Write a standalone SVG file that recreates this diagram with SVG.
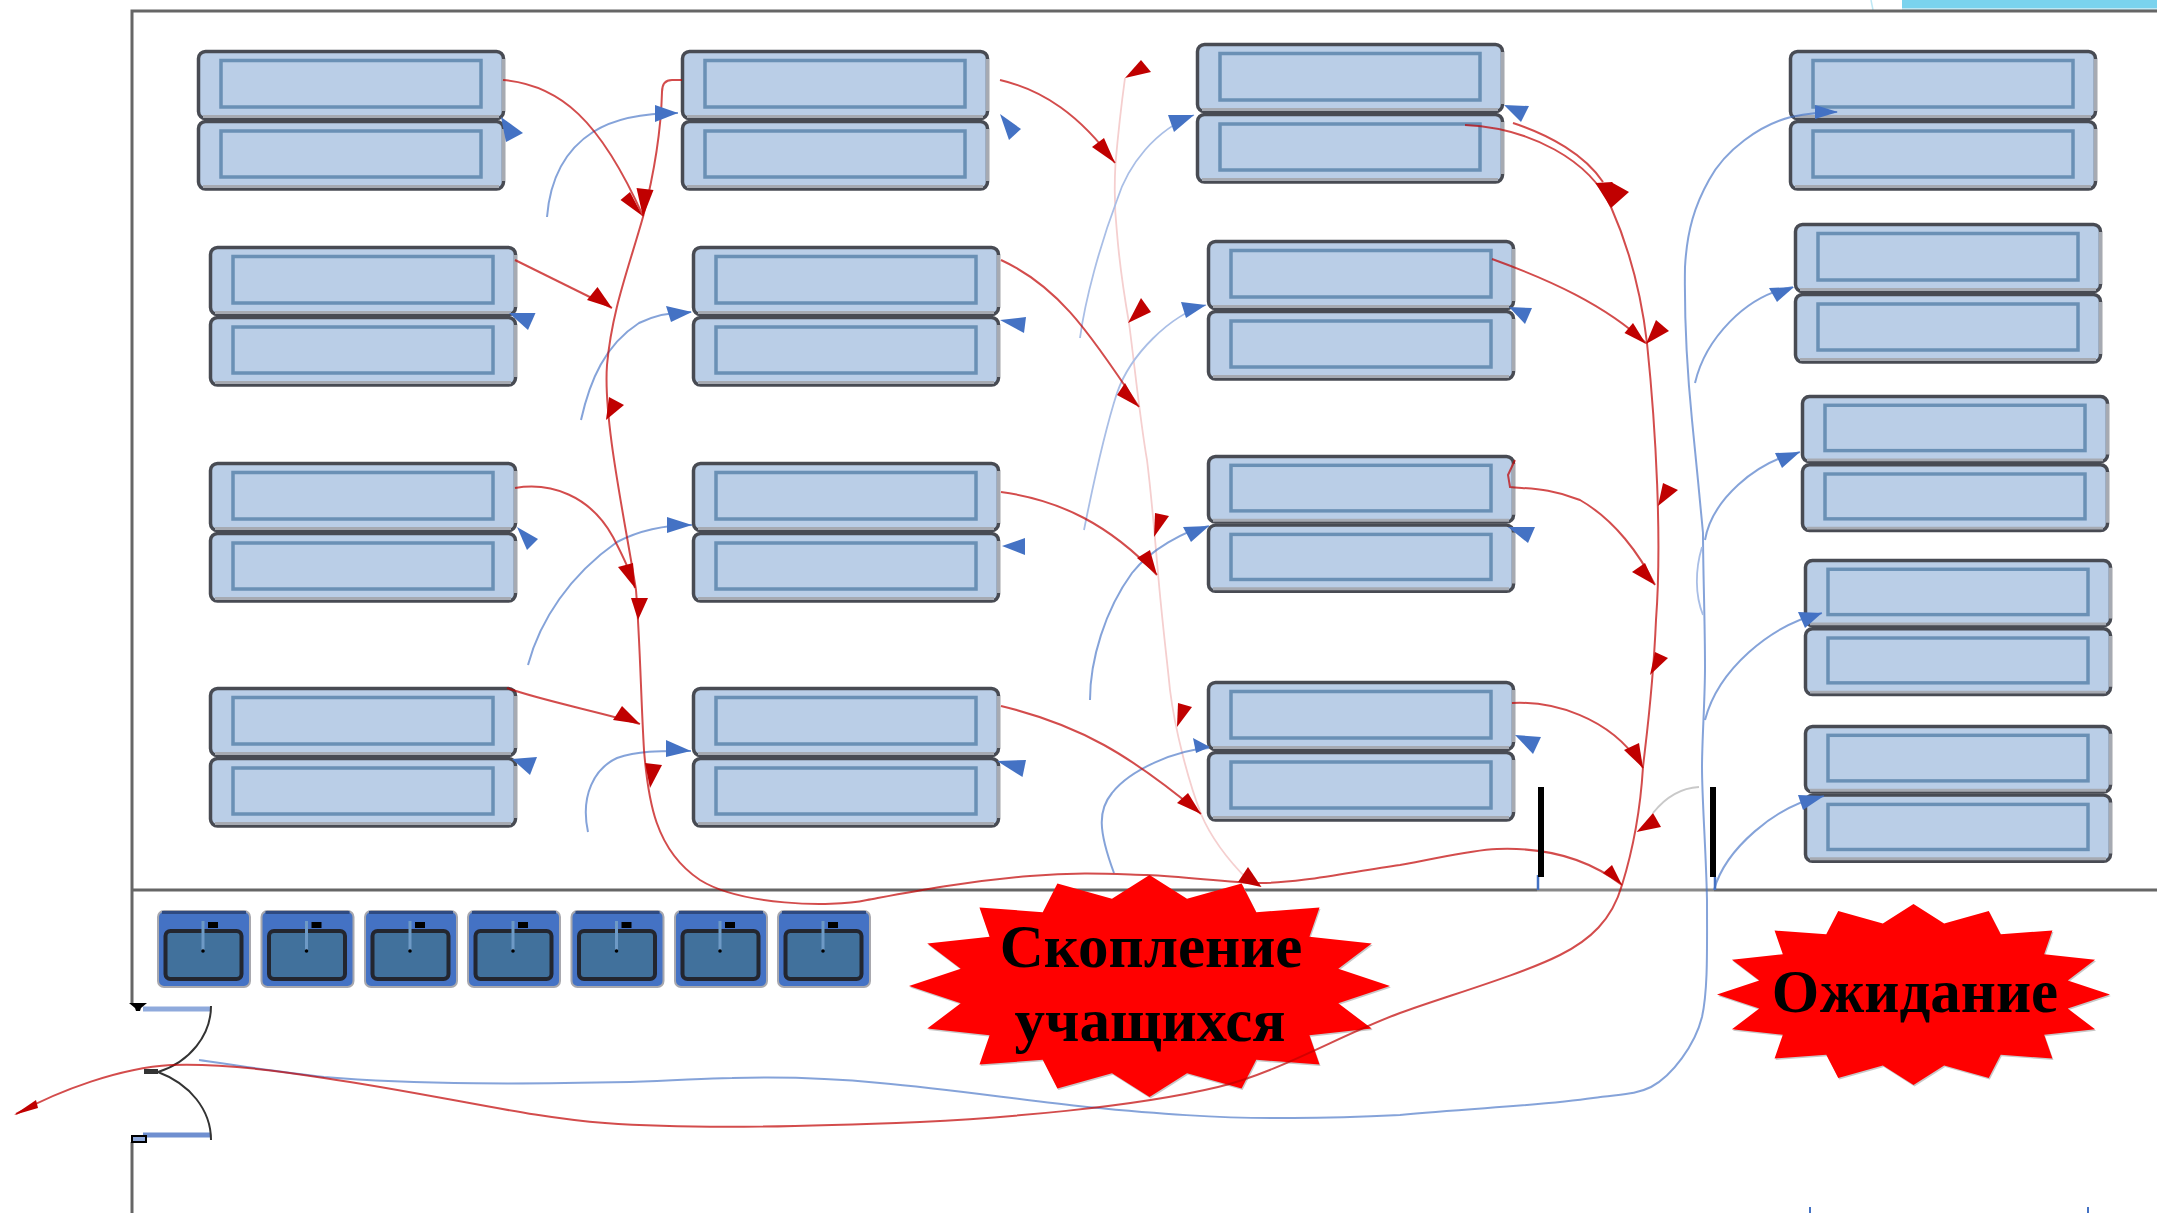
<svg xmlns="http://www.w3.org/2000/svg" xmlns:xlink="http://www.w3.org/1999/xlink" width="2157" height="1213" viewBox="0 0 2157 1213">
<style>
.bg{fill:#fff}
.wall{stroke:#666;stroke-width:3;fill:none}
.box{fill:#BACEE7;stroke:#484B53;stroke-width:3.500}
.edge{fill:none;stroke:#A6AAB2;stroke-width:3}
.inner{fill:#BACEE7;stroke:#6A90B5;stroke-width:3.500}
.sink{fill:#4472C4;stroke:#A8A8AE;stroke-width:2}
.sinktop{stroke:#2F4A80;stroke-width:3;fill:none}
.basin{fill:#41719C;stroke:#23262F;stroke-width:4}
.tap{stroke:#6E9AC6;stroke-width:3;fill:none}
.r{fill:none;stroke:#C00000;stroke-width:2;stroke-opacity:.7}
.p{fill:none;stroke:#F5CFCF;stroke-width:1.800}
.b{fill:none;stroke:#4472C4;stroke-width:2;stroke-opacity:.65}
.bl{fill:none;stroke:#A9BEE6;stroke-width:1.800}
.rh{fill:#C00000}
.bh{fill:#4472C4}
.star{fill:#FF0000}
.shadow{fill:#C8C8C8}
.lbl{font-family:"Liberation Serif","Noto Sans CJK SC",serif;font-weight:bold;fill:#000;text-anchor:middle}
.bar{fill:#000}
</style>
<defs>
<g id="pair">
<rect class="box" x="0.500" y="0.500" width="305" height="67" rx="7"/>
<rect class="box" x="0.500" y="70.500" width="305" height="67.500" rx="7"/>
<path class="edge" d="M5 65.500H301M5 135.500H301M305.500 8V60M305.500 78V130"/>
<rect class="inner" x="23" y="9.500" width="260" height="46.500"/>
<rect class="inner" x="23" y="80" width="260" height="46"/>
</g>
<g id="basin">
<rect class="sink" x="0" y="0" width="92" height="76" rx="6"/>
<path class="sinktop" d="M4 1.500H88"/>
<rect class="basin" x="7.500" y="20" width="76" height="48" rx="5"/>
<path class="tap" d="M45 10V40"/>
<rect x="50" y="11" width="10" height="6" fill="#000"/>
<circle cx="45" cy="40" r="1.800" fill="#000"/>
</g>
<polygon id="burst" points="0,-100 15.600,-78.500 38.300,-92.400 44.400,-66.500 70.700,-70.700 66.500,-44.400 92.400,-38.300 78.500,-15.600 100,0 78.500,15.600 92.400,38.300 66.500,44.400 70.700,70.700 44.400,66.500 38.300,92.400 15.600,78.500 0,100 -15.600,78.500 -38.300,92.400 -44.400,66.500 -70.700,70.700 -66.500,44.400 -92.400,38.300 -78.500,15.600 -100,0 -78.500,-15.600 -92.400,-38.300 -66.500,-44.400 -70.700,-70.700 -44.400,-66.500 -38.300,-92.400 -15.600,-78.500"/>
</defs>
<rect class="bg" width="2157" height="1213"/>

<g id="top-band">
<rect x="1902" y="0" width="255" height="8" fill="#7AD3EE"/>
<rect x="1902" y="8" width="255" height="2" fill="#BEE8F5"/>
<path d="M1871 0L1873 10" stroke="#BEE8F5" stroke-width="1.500"/>
</g>

<g id="walls">
<path class="wall" d="M2157 11H132V1003"/>
<path class="wall" d="M132 1142V1213"/>
<path class="wall" d="M132 890H1537"/>
<path d="M1537 890H1714" stroke="#8A8A8A" stroke-width="3"/>
<path class="wall" d="M1714 890H2157"/>
<path d="M1810 1207V1213M2088 1207V1213" stroke="#4472C4" stroke-width="2"/>
</g>

<g id="node-c1r1"><use xlink:href="#pair" href="#pair" x="198" y="51"/></g>
<g id="node-c1r2"><use xlink:href="#pair" href="#pair" x="210" y="247"/></g>
<g id="node-c1r3"><use xlink:href="#pair" href="#pair" x="210" y="463"/></g>
<g id="node-c1r4"><use xlink:href="#pair" href="#pair" x="210" y="688"/></g>
<g id="node-c2r1"><use xlink:href="#pair" href="#pair" x="682" y="51"/></g>
<g id="node-c2r2"><use xlink:href="#pair" href="#pair" x="693" y="247"/></g>
<g id="node-c2r3"><use xlink:href="#pair" href="#pair" x="693" y="463"/></g>
<g id="node-c2r4"><use xlink:href="#pair" href="#pair" x="693" y="688"/></g>
<g id="node-c3r1"><use xlink:href="#pair" href="#pair" x="1197" y="44"/></g>
<g id="node-c3r2"><use xlink:href="#pair" href="#pair" x="1208" y="241"/></g>
<g id="node-c3r3"><use xlink:href="#pair" href="#pair" transform="translate(1208 456) scale(1 .98)"/></g>
<g id="node-c3r4"><use xlink:href="#pair" href="#pair" x="1208" y="682"/></g>
<g id="node-c4r1"><use xlink:href="#pair" href="#pair" x="1790" y="51"/></g>
<g id="node-c4r2"><use xlink:href="#pair" href="#pair" x="1795" y="224"/></g>
<g id="node-c4r3"><use xlink:href="#pair" href="#pair" transform="translate(1802 396) scale(1 .975)"/></g>
<g id="node-c4r4"><use xlink:href="#pair" href="#pair" transform="translate(1805 560) scale(1 .975)"/></g>
<g id="node-c4r5"><use xlink:href="#pair" href="#pair" transform="translate(1805 726) scale(1 .98)"/></g>

<g id="node-sink1"><use xlink:href="#basin" href="#basin" x="158" y="911"/></g>
<g id="node-sink2"><use xlink:href="#basin" href="#basin" x="261.500" y="911"/></g>
<g id="node-sink3"><use xlink:href="#basin" href="#basin" x="365" y="911"/></g>
<g id="node-sink4"><use xlink:href="#basin" href="#basin" x="468" y="911"/></g>
<g id="node-sink5"><use xlink:href="#basin" href="#basin" x="571.500" y="911"/></g>
<g id="node-sink6"><use xlink:href="#basin" href="#basin" x="675" y="911"/></g>
<g id="node-sink7"><use xlink:href="#basin" href="#basin" x="778" y="911"/></g>

<g id="node-door">
<path d="M143 1009H211" stroke="#8FAADC" stroke-width="5" fill="none"/>
<path d="M143 1135H211" stroke="#6F8FD0" stroke-width="5" fill="none"/>
<path d="M211 1006C211 1035 190 1062 158 1072C190 1084 211 1110 211 1140" fill="none" stroke="#333" stroke-width="2"/>
<polygon points="129,1003 147,1003 141,1008 140,1011 136,1011 135,1008" fill="#000"/>
<rect x="132" y="1136" width="14" height="6" fill="#8FAADC" stroke="#000" stroke-width="2"/>
<rect x="144" y="1069" width="14" height="5" fill="#333"/>
</g>

<g id="node-crowd">
<use class="shadow" xlink:href="#burst" href="#burst" transform="translate(1150.500 987.500) scale(2.405 1.11)"/>
<use class="star" xlink:href="#burst" href="#burst" transform="translate(1149.500 986) scale(2.405 1.11)"/>
</g>
<g id="node-wait">
<use class="shadow" xlink:href="#burst" href="#burst" transform="translate(1914.500 996) scale(1.965 .905)"/>
<use class="star" xlink:href="#burst" href="#burst" transform="translate(1913.500 994.500) scale(1.965 .905)"/>
</g>

<g id="connectors">
<path class="p" d="M1125 78C1122 100 1118 135 1115.500 163C1114 190 1115 215 1117 233C1120 270 1125 300 1129 323C1134 360 1140 420 1147 460C1152 500 1155 540 1158 573C1162 620 1167 660 1170 690C1175 730 1188 780 1201 814C1212 840 1228 860 1248 880"/>
<path class="bl" d="M1080 338C1085 300 1100 245 1117 200C1128 165 1155 130 1194 115"/>
<path class="bl" d="M1084 530C1092 490 1105 430 1117 393C1130 355 1170 315 1206 305"/>
<path class="b" d="M1090 700C1090 660 1105 610 1132 573C1150 550 1185 530 1209 526"/>
<path class="b" d="M1114 873C1098 830 1098 810 1112 793C1130 770 1175 750 1209 748"/>
<path class="b" d="M547 217C550 180 565 150 593 132C615 118 645 113 678 113"/>
<path class="b" d="M581 420C590 380 605 345 639 323C655 315 675 312 691 312"/>
<path class="b" d="M528 665C540 620 570 575 617 542C640 530 665 525 692 525"/>
<path class="b" d="M588 832C580 795 595 768 617 758C640 750 665 751 691 751"/>
<path class="b" d="M199 1060C240 1066 280 1072 324 1077C420 1085 530 1084 630 1082C680 1081 700 1078 732 1078C800 1076 850 1080 880 1083C950 1089 1020 1100 1087 1107C1150 1113 1220 1119 1293 1118C1340 1118 1380 1116 1400 1115C1470 1108 1540 1106 1593 1098C1620 1094 1635 1095 1651 1087C1672 1076 1695 1045 1702 1017C1708 990 1707 950 1707 900C1706 850 1702 800 1702 767C1702 740 1705 700 1705 667C1705 620 1703 570 1703 533C1700 500 1695 450 1692 420C1688 380 1684 333 1685 267C1687 230 1695 205 1709 180C1725 150 1760 125 1791 117C1810 113 1825 112 1837 112"/>
<path class="bl" d="M1702 547C1695 570 1695 595 1703 615"/>
<path class="b" d="M1695 383C1705 340 1745 295 1793 287"/>
<path class="b" d="M1705 540C1712 500 1755 462 1800 452"/>
<path class="b" d="M1705 720C1718 670 1770 625 1822 613"/>
<path class="b" d="M1714 890C1725 850 1775 805 1824 796"/>
<path d="M1538 875V890M1715 877V890" stroke="#4472C4" stroke-width="2.500" fill="none"/>
<path d="M1699 787C1680 788 1665 798 1653 813" fill="none" stroke="#C9C9C9" stroke-width="1.800"/>
<path class="r" d="M503 80C560 85 600 120 643 216"/>
<path class="r" d="M515 260L612 308"/>
<path class="r" d="M515 488C550 482 590 495 613 537C625 560 632 575 635 588"/>
<path class="r" d="M507 688C540 700 600 712 640 724"/>
<path class="r" d="M682 80H672Q662 80 662 92C661 130 655 170 643 217C628 270 612 310 607 365C603 420 625 520 636 590C640 640 641 700 644 750C648 800 655 850 700 880C740 905 830 908 867 900C910 892 960 882 1030 876C1080 872 1110 874 1147 875C1190 877 1230 883 1260 883C1300 883 1350 872 1400 865C1440 858 1470 850 1497 849C1550 847 1590 860 1622 885"/>
<path class="r" d="M1000 80C1043 90 1080 115 1115 163"/>
<path class="r" d="M1001 260C1055 285 1085 325 1139 407"/>
<path class="r" d="M1001 492C1060 500 1110 525 1157 575"/>
<path class="r" d="M1001 706C1080 725 1130 755 1201 814"/>
<path class="r" d="M1465 125C1530 128 1590 160 1611 207"/>
<path class="r" d="M1513 123C1550 135 1585 155 1603 182"/>
<path class="r" d="M1492 259C1550 280 1605 305 1646 343"/>
<path class="r" d="M1515 460L1508 475L1510 487C1530 489 1550 488 1580 500C1615 520 1640 555 1655 585"/>
<path class="r" d="M1512 703C1550 701 1610 715 1643 768"/>
<path class="r" d="M1611 207C1630 250 1642 300 1647 343C1656 430 1662 540 1656 620C1653 690 1646 740 1643 767C1641 800 1636 840 1622 885C1612 920 1590 940 1560 955C1520 975 1450 995 1400 1013C1340 1035 1280 1072 1218 1087C1130 1108 1000 1118 920 1122C820 1126 700 1130 605 1123C530 1118 440 1095 324 1078C280 1071 220 1063 171 1065C120 1068 60 1090 16 1114"/>

<polygon class="bh" points="655,105 655,122 678,113"/>
<polygon class="bh" points="666,306 671,322 692,312"/>
<polygon class="bh" points="667,517 667,533 692,525"/>
<polygon class="bh" points="666,740 666,757 691,751"/>
<polygon class="bh" points="1168,115 1194,115 1174,132"/>
<polygon class="bh" points="1181,302 1206,305 1186,318"/>
<polygon class="bh" points="1183,527 1209,526 1191,542"/>
<polygon class="bh" points="1193,738 1210,747 1196,753"/>
<polygon class="bh" points="1815,105 1815,119 1838,112"/>
<polygon class="bh" points="1769,288 1794,287 1777,302"/>
<polygon class="bh" points="1775,453 1800,452 1782,468"/>
<polygon class="bh" points="1798,612 1822,613 1805,628"/>
<polygon class="bh" points="1798,795 1824,796 1803,810"/>
<polygon class="bh" points="501,117 523,133 506,142"/>
<polygon class="bh" points="509,313 535.500,313 528,330"/>
<polygon class="bh" points="517,527 538,539 527,550"/>
<polygon class="bh" points="512,759 537,757 530,775"/>
<polygon class="bh" points="1000,114 1021,129 1009,140"/>
<polygon class="bh" points="1000,320 1026,317 1024,333"/>
<polygon class="bh" points="1002,546 1025,538 1025,555"/>
<polygon class="bh" points="997,761 1026,760 1022.500,777"/>
<polygon class="bh" points="1504,105 1529,106 1521,122"/>
<polygon class="bh" points="1509,307 1532,308 1525,324"/>
<polygon class="bh" points="1508,527 1535,527 1528,543"/>
<polygon class="bh" points="1515,735 1541,737 1533,754"/>

<polygon class="rh" points="620.500,200 630,192 642.500,216"/>
<polygon class="rh" points="636.500,188 653.500,190 643,217"/>
<polygon class="rh" points="587,300 597.500,287 612,308"/>
<polygon class="rh" points="606,420 609,397 624,405"/>
<polygon class="rh" points="618,567 633,563 635,588"/>
<polygon class="rh" points="631,598 648,598 638,620"/>
<polygon class="rh" points="613,720 622,706 640,724"/>
<polygon class="rh" points="645,763 662,765 650,788"/>
<polygon class="rh" points="1092,147 1104,138 1115,163"/>
<polygon class="rh" points="1117,395 1125,383 1139,407"/>
<polygon class="rh" points="1137,558 1150,550 1157,575"/>
<polygon class="rh" points="1177,803 1188,793 1201,814"/>
<polygon class="rh" points="1125,78 1141,60 1151,72"/>
<polygon class="rh" points="1128,323 1141,298 1151,312"/>
<polygon class="rh" points="1154,537 1155,513 1169,516"/>
<polygon class="rh" points="1177,727 1178,703 1192,707"/>
<polygon class="rh" points="1238,882 1248,867 1261.500,887"/>
<polygon class="rh" points="1595.500,183 1612.500,182 1611,208"/>
<polygon class="rh" points="1611,182 1629,192 1611,208"/>
<polygon class="rh" points="1624.500,333 1633,323 1646,344"/>
<polygon class="rh" points="1646,344 1656,320 1669,331"/>
<polygon class="rh" points="1658,506 1663,483 1678,490"/>
<polygon class="rh" points="1632,572 1645,563 1655,585"/>
<polygon class="rh" points="1650,675 1655,652 1668,658"/>
<polygon class="rh" points="1624,750 1639,743 1643,768"/>
<polygon class="rh" points="1636.600,832 1653,813 1661,827"/>
<polygon class="rh" points="1603,873 1612,865 1622,885"/>
<polygon class="rh" points="14,1115 36,1100 38,1108"/>
</g>

<g id="bars">
<rect class="bar" x="1538" y="787" width="6" height="90"/>
<rect class="bar" x="1710" y="787" width="6" height="90"/>
</g>

<g id="labels">
<text class="lbl" x="1151" y="967" font-size="61">Скопление</text>
<text class="lbl" x="1150" y="1041" font-size="61">учащихся</text>
<text class="lbl" x="1915" y="1012" font-size="61">Ожидание</text>
</g>
</svg>
